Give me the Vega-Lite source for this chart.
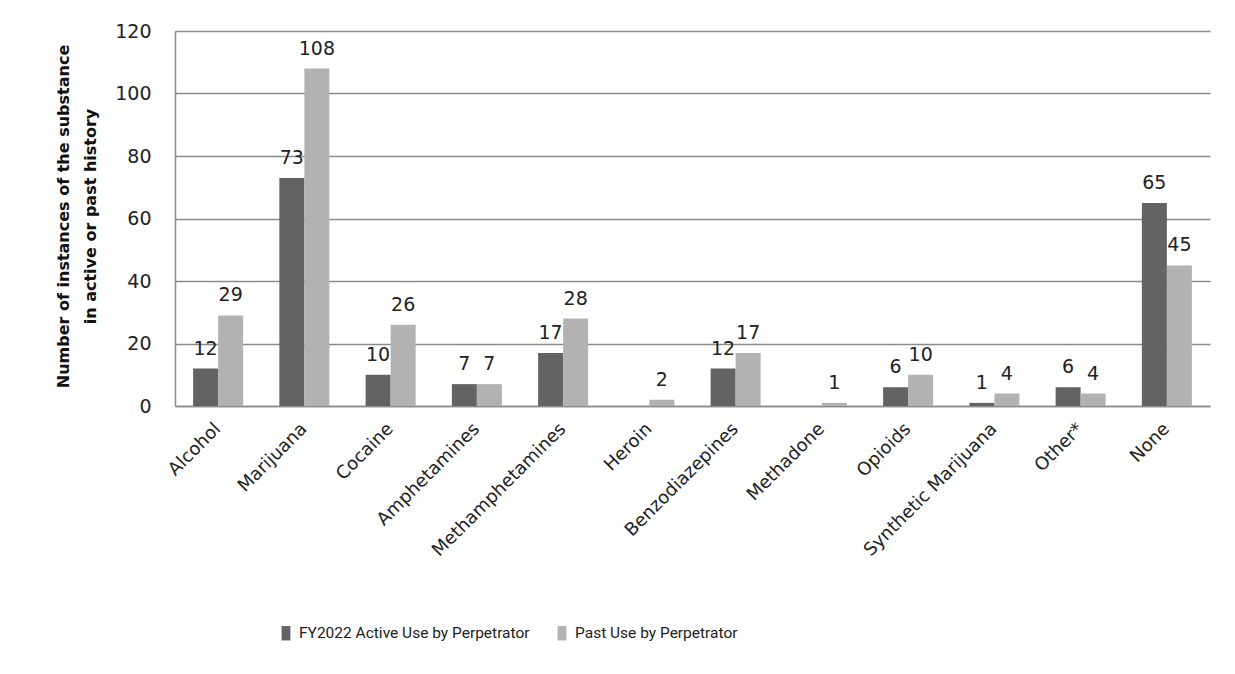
{
  "$schema": "https://vega.github.io/schema/vega-lite/v6.json",
  "autosize": "none",
  "width": 1035,
  "height": 375,
  "padding": {"left": 175, "top": 31, "right": 25, "bottom": 268},
  "background": "white",
  "config": {
    "view": {"stroke": null},
    "font": "DejaVu Sans",
    "axis": {"labelFont": "DejaVu Sans", "titleFont": "DejaVu Sans"}
  },
  "data": {
    "values": [
      {"substance": "Alcohol", "series": "FY2022 Active Use by Perpetrator", "value": 12},
      {"substance": "Alcohol", "series": "Past Use by Perpetrator", "value": 29},
      {"substance": "Marijuana", "series": "FY2022 Active Use by Perpetrator", "value": 73},
      {"substance": "Marijuana", "series": "Past Use by Perpetrator", "value": 108},
      {"substance": "Cocaine", "series": "FY2022 Active Use by Perpetrator", "value": 10},
      {"substance": "Cocaine", "series": "Past Use by Perpetrator", "value": 26},
      {"substance": "Amphetamines", "series": "FY2022 Active Use by Perpetrator", "value": 7},
      {"substance": "Amphetamines", "series": "Past Use by Perpetrator", "value": 7},
      {"substance": "Methamphetamines", "series": "FY2022 Active Use by Perpetrator", "value": 17},
      {"substance": "Methamphetamines", "series": "Past Use by Perpetrator", "value": 28},
      {"substance": "Heroin", "series": "Past Use by Perpetrator", "value": 2},
      {"substance": "Benzodiazepines", "series": "FY2022 Active Use by Perpetrator", "value": 12},
      {"substance": "Benzodiazepines", "series": "Past Use by Perpetrator", "value": 17},
      {"substance": "Methadone", "series": "Past Use by Perpetrator", "value": 1},
      {"substance": "Opioids", "series": "FY2022 Active Use by Perpetrator", "value": 6},
      {"substance": "Opioids", "series": "Past Use by Perpetrator", "value": 10},
      {"substance": "Synthetic Marijuana", "series": "FY2022 Active Use by Perpetrator", "value": 1},
      {"substance": "Synthetic Marijuana", "series": "Past Use by Perpetrator", "value": 4},
      {"substance": "Other*", "series": "FY2022 Active Use by Perpetrator", "value": 6},
      {"substance": "Other*", "series": "Past Use by Perpetrator", "value": 4},
      {"substance": "None", "series": "FY2022 Active Use by Perpetrator", "value": 65},
      {"substance": "None", "series": "Past Use by Perpetrator", "value": 45}
    ]
  },
  "encoding": {
    "x": {
      "field": "substance",
      "type": "nominal",
      "sort": null,
      "scale": {"paddingInner": 0.42, "paddingOuter": 0.21},
      "axis": {
        "title": null,
        "labelAngle": -45,
        "labelAlign": "right",
        "labelBaseline": "middle",
        "labelFontSize": 18,
        "labelColor": "#222222",
        "labelPadding": 20,
        "labelLimit": 0,
        "ticks": false,
        "domainColor": "#8a8a8a",
        "domainWidth": 1.5
      }
    },
    "xOffset": {
      "field": "series",
      "type": "nominal",
      "sort": ["FY2022 Active Use by Perpetrator", "Past Use by Perpetrator"]
    },
    "y": {
      "field": "value",
      "type": "quantitative",
      "scale": {"domain": [0, 120], "nice": false},
      "axis": {
        "values": [0, 20, 40, 60, 80, 100, 120],
        "title": ["Number of instances of the substance", "in active or past history"],
        "titleFontSize": 16,
        "titleFontWeight": "bold",
        "titleColor": "#111111",
        "titleLineHeight": 27,
        "titleAngle": -90,
        "titleBaseline": "middle",
        "titleAlign": "center",
        "titleX": -112,
        "titleY": 185,
        "labelFontSize": 19,
        "labelColor": "#222222",
        "labelPadding": 24,
        "ticks": false,
        "grid": true,
        "gridColor": "#8a8a8a",
        "gridWidth": 1.5,
        "domainColor": "#8a8a8a",
        "domainWidth": 1.5
      }
    }
  },
  "layer": [
    {
      "mark": {"type": "bar"},
      "encoding": {
        "color": {
          "field": "series",
          "type": "nominal",
          "scale": {
            "domain": ["FY2022 Active Use by Perpetrator", "Past Use by Perpetrator"],
            "range": ["#636363", "#b2b2b2"]
          },
          "legend": {
            "title": null,
            "orient": "none",
            "direction": "horizontal",
            "legendX": 103,
            "legendY": 594,
            "labelFontSize": 15.5,
            "labelColor": "#222222",
            "labelFont": "Roboto",
            "labelLimit": 0,
            "symbolType": "M-0.55,-0.9H0.55V0.9H-0.55Z",
            "symbolSize": 256,
            "symbolStrokeWidth": 0,
            "columnPadding": 24,
            "labelOffset": 5
          }
        }
      }
    },
    {
      "mark": {"type": "text", "baseline": "bottom", "dy": -10, "fontSize": 19, "color": "#222222"},
      "encoding": {"text": {"field": "value", "type": "quantitative"}}
    }
  ]
}
